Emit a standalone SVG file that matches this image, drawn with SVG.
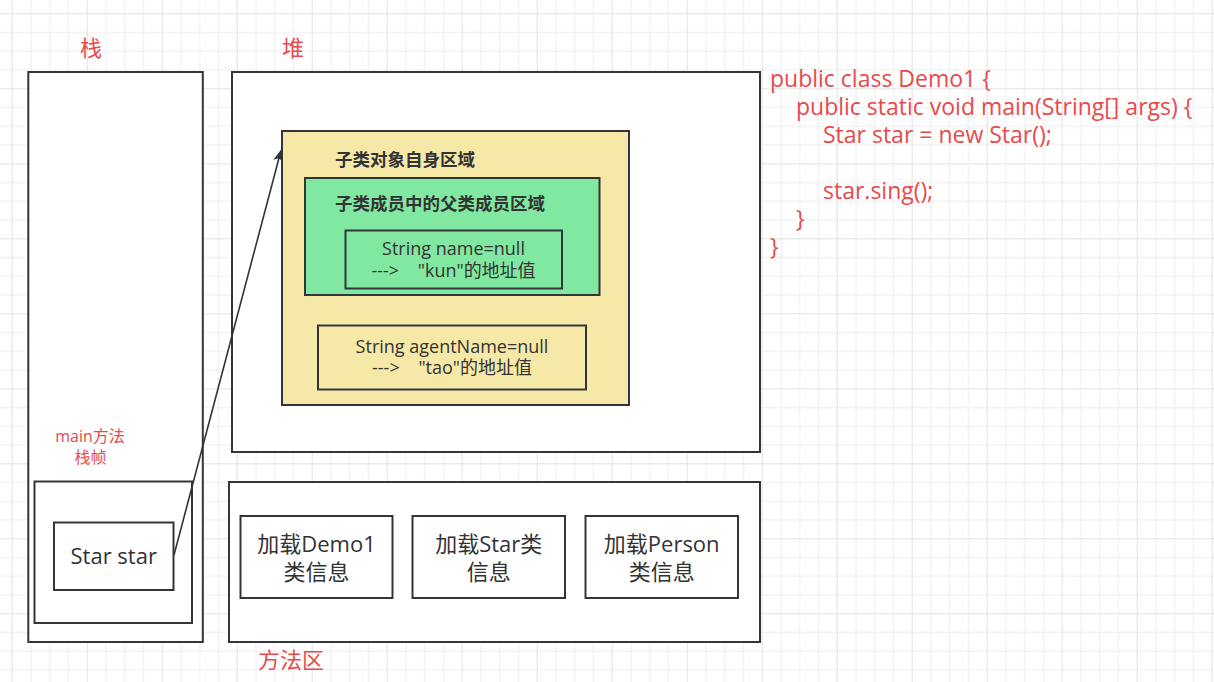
<svg xmlns="http://www.w3.org/2000/svg" width="1214" height="682" viewBox="0 0 1214 682">
  <defs>
    <pattern id="grid" patternUnits="userSpaceOnUse" x="11.7" y="13.3" width="75" height="75">
      <rect x="0" y="0" width="75" height="75" fill="#ffffff"/>
      <g fill="#eeeeee">
        <rect x="18.75" y="0" width="1" height="75"/>
        <rect x="37.5" y="0" width="1" height="75"/>
        <rect x="56.25" y="0" width="1" height="75"/>
        <rect x="0" y="18.75" width="75" height="1"/>
        <rect x="0" y="37.5" width="75" height="1"/>
        <rect x="0" y="56.25" width="75" height="1"/>
      </g>
      <g fill="#e2e2e2">
        <rect x="0" y="0" width="1" height="75"/>
        <rect x="0" y="0" width="75" height="1"/>
      </g>
    </pattern>
    <marker id="arrow" viewBox="0 0 12 10" refX="11" refY="5" markerWidth="12" markerHeight="10" markerUnits="userSpaceOnUse" orient="auto">
      <path d="M0,0 L12,5 L0,10 L3,5 Z" fill="#333333"/>
    </marker>
    <style>
      .box { stroke: #32363b; stroke-width: 2; }
      .white { fill: #ffffff; }
      .yellow { fill: #f6e8a6; }
      .green { fill: #80e8a0; }
      .red { fill: #e84a4c; font-family: "Open Sans", "Noto Sans CJK SC", sans-serif; }
      .dark { fill: #333333; font-family: "Open Sans", "Noto Sans CJK SC", sans-serif; }
      .title { font-weight: bold; font-size: 17.5px; font-family: "Noto Sans CJK SC", sans-serif; fill: #333333; }
      .mid { text-anchor: middle; }
    </style>
  </defs>

  <rect x="0" y="0" width="1214" height="682" fill="url(#grid)"/>

  <g id="label-stack">
    <text class="red mid" x="91" y="56" font-size="22">栈</text>
  </g>
  <g id="label-heap">
    <text class="red mid" x="293" y="56" font-size="22">堆</text>
  </g>

  <g id="stack">
    <rect class="box white" x="28.3" y="72" width="174.5" height="570"/>
  </g>
  <g id="main-frame">
    <rect class="box white" x="34.5" y="481.5" width="157.5" height="141.5"/>
    <text class="red mid" x="90" y="442" font-size="16">main方法</text>
    <text class="red mid" x="90.5" y="463" font-size="16">栈帧</text>
  </g>
  <g id="star-var">
    <rect class="box white" x="54" y="522.5" width="119.5" height="67.5"/>
    <text class="dark mid" x="113.7" y="564" font-size="22">Star star</text>
  </g>

  <g id="heap">
    <rect class="box white" x="232" y="72" width="528" height="380"/>
  </g>
  <g id="star-object">
    <rect class="box yellow" x="282" y="131" width="347" height="274"/>
    <text class="title" x="335" y="166">子类对象自身区域</text>
  </g>
  <g id="parent-members">
    <rect class="box green" x="305" y="178" width="294.5" height="117"/>
    <text class="title" x="335" y="210">子类成员中的父类成员区域</text>
  </g>
  <g id="name-field">
    <rect class="box green" x="345.5" y="230.5" width="216.5" height="58"/>
    <text class="dark mid" font-size="18" xml:space="preserve"><tspan x="453.5" y="255">String name=null</tspan><tspan x="453.5" y="277">--->    "kun"的地址值</tspan></text>
  </g>
  <g id="agent-field">
    <rect class="box yellow" x="318" y="325.5" width="268" height="64"/>
    <text class="dark mid" font-size="18" xml:space="preserve"><tspan x="452" y="352.5">String agentName=null</tspan><tspan x="452" y="374">--->    "tao"的地址值</tspan></text>
  </g>

  <g id="method-area">
    <rect class="box white" x="229" y="482" width="531" height="160"/>
    <text class="red" x="258" y="668" font-size="22">方法区</text>
  </g>
  <g id="class-demo1">
    <rect class="box white" x="240.5" y="516" width="152" height="82"/>
    <text class="dark mid" font-size="22"><tspan x="316.5" y="551.5">加载Demo1</tspan><tspan x="316.5" y="580">类信息</tspan></text>
  </g>
  <g id="class-star">
    <rect class="box white" x="412.5" y="516" width="152.5" height="82"/>
    <text class="dark mid" font-size="22"><tspan x="488.7" y="551.5">加载Star类</tspan><tspan x="488.7" y="580">信息</tspan></text>
  </g>
  <g id="class-person">
    <rect class="box white" x="585.5" y="516" width="152.5" height="82"/>
    <text class="dark mid" font-size="22"><tspan x="661.7" y="551.5">加载Person</tspan><tspan x="661.7" y="580">类信息</tspan></text>
  </g>

  <g id="code">
    <text class="red" font-size="23" xml:space="preserve"><tspan x="770" y="86.5">public class Demo1 {</tspan><tspan x="796" y="114.5">public static void main(String[] args) {</tspan><tspan x="823" y="142.5">Star star = new Star();</tspan><tspan x="823" y="198.5">star.sing();</tspan><tspan x="796" y="226.5">}</tspan><tspan x="770" y="254.5">}</tspan></text>
  </g>

  <g id="connectors">
    <line x1="174" y1="555" x2="281" y2="150.5" stroke="#333333" stroke-width="1.6" marker-end="url(#arrow)"/>
  </g>
</svg>
